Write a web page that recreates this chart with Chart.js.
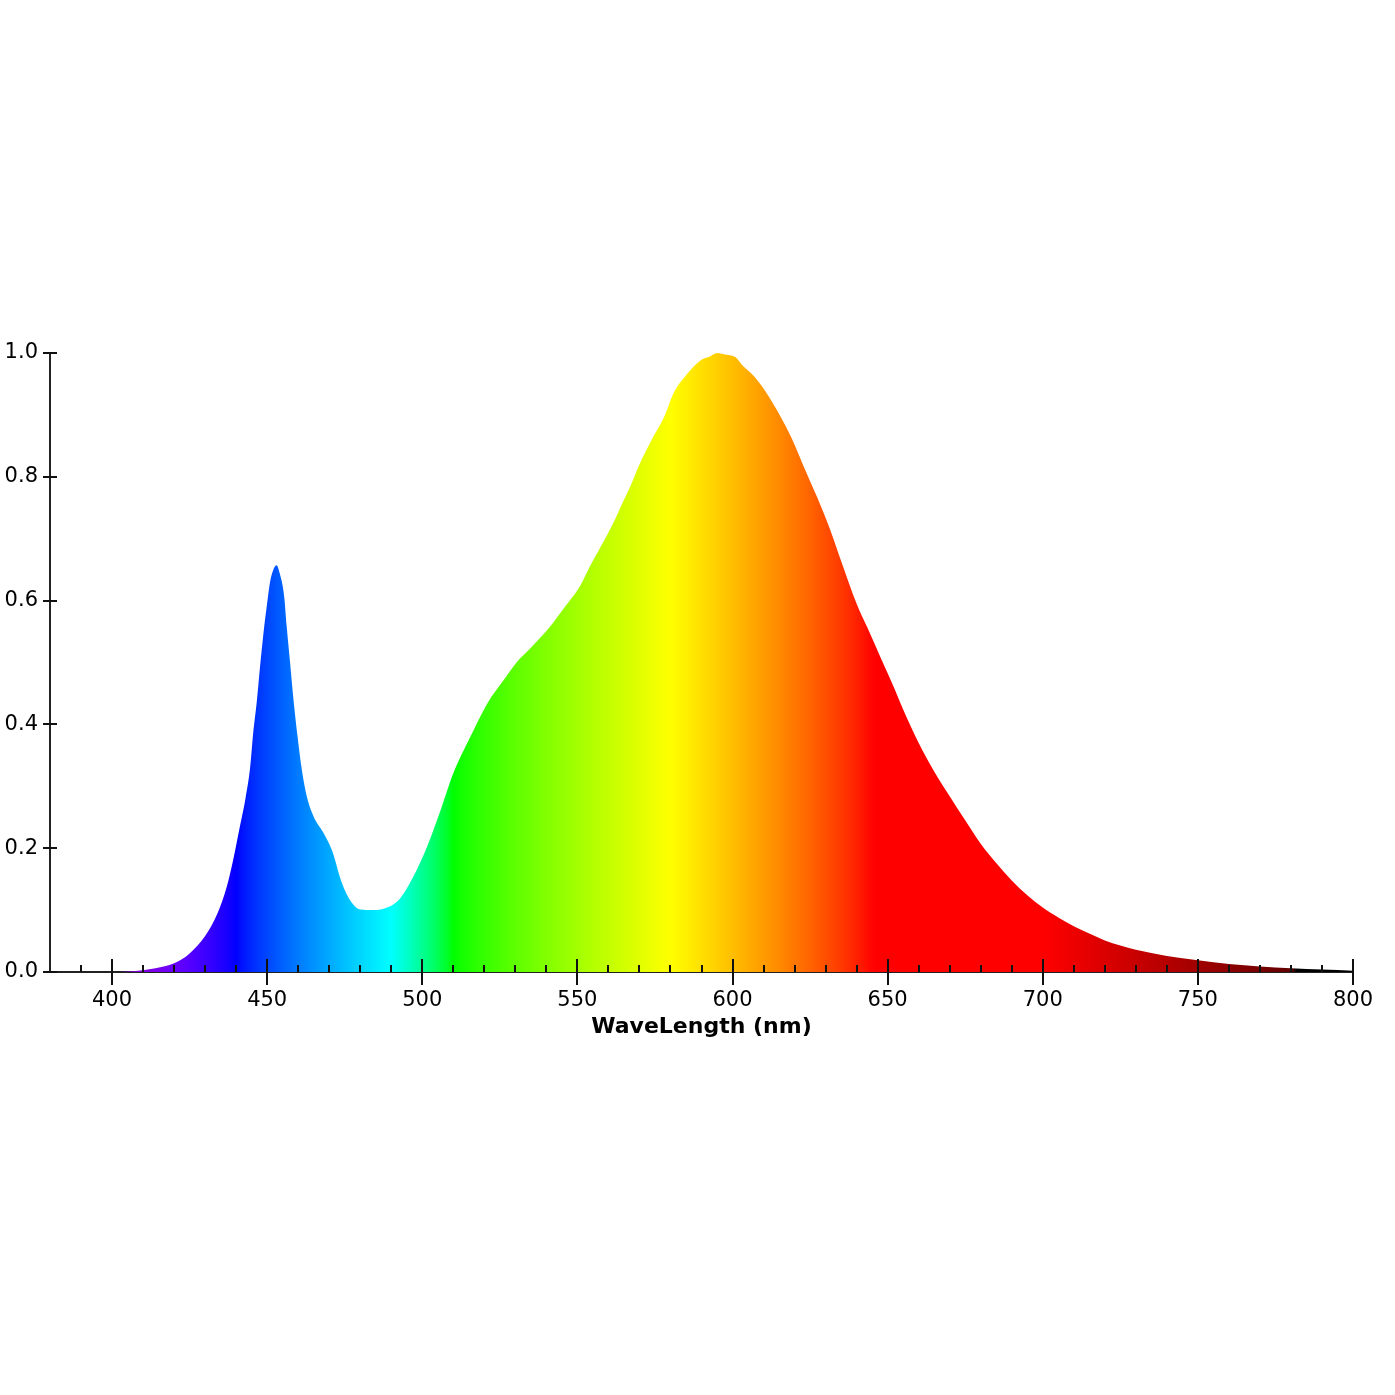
<!DOCTYPE html>
<html>
<head>
<meta charset="utf-8">
<script src="https://cdn.jsdelivr.net/npm/chart.js@4.4.1/dist/chart.umd.min.js"></script>
<style>
  body { margin: 0; background: #fff; }
  #wrap { width: 1395px; height: 1395px; }
</style>
</head>
<body>
<div id="wrap"><canvas id="chart"></canvas></div>
<script>
// spectrum
const wavelengths = [380, 390, 400, 405, 410, 414, 420, 425, 430, 434, 437, 439, 441, 443, 444.5, 445.5,
  446.7, 447.7, 448.8, 450, 451, 452, 453, 454, 455.5, 456.3, 457.4, 458.5, 459.8, 461.2, 462.8, 465,
  468, 471, 474, 477, 480, 484, 490, 493, 497, 501.5, 506, 510, 515.5, 521, 526, 530.5, 535, 541,
  545.5, 551, 554, 557.5, 562, 564, 567, 570, 574.5, 578, 581, 585, 590, 592.5, 595, 598, 601, 603,
  607, 611, 615.5, 619, 623, 627, 631.5, 635, 640, 643.5, 648, 652, 655, 660, 665, 670, 675, 680,
  685, 690, 695, 700, 705, 710, 715, 720, 725, 730, 740, 750, 760, 770, 780, 790, 800];
const intensity = [0, 0, 0, 0.001, 0.003, 0.006, 0.014, 0.03, 0.058, 0.095, 0.138, 0.18, 0.23, 0.28, 0.33, 0.386,
  0.439, 0.493, 0.547, 0.596, 0.632, 0.65, 0.657, 0.645, 0.606, 0.558, 0.499, 0.439, 0.38, 0.326, 0.283, 0.251,
  0.226, 0.195, 0.145, 0.114, 0.101, 0.1, 0.107, 0.12, 0.153, 0.202, 0.263, 0.321, 0.38, 0.434, 0.47, 0.501, 0.524, 0.557,
  0.587, 0.625, 0.655, 0.687, 0.73, 0.752, 0.784, 0.82, 0.865, 0.897, 0.935, 0.964, 0.989, 0.994, 1.0, 0.997, 0.993, 0.981,
  0.962, 0.935, 0.897, 0.863, 0.816, 0.77, 0.714, 0.664, 0.595, 0.556, 0.505, 0.46, 0.424, 0.37, 0.324, 0.284, 0.245, 0.207,
  0.176, 0.148, 0.124, 0.104, 0.088, 0.074, 0.062, 0.051, 0.043, 0.036, 0.026, 0.019, 0.013, 0.009, 0.006, 0.004, 0.002];

const xTicks = [400, 450, 500, 550, 600, 650, 700, 750, 800];
const xMinorTicks = [390, 410, 420, 430, 440, 460, 470, 480, 490, 510, 520, 530, 540, 560, 570, 580, 590,
  610, 620, 630, 640, 660, 670, 680, 690, 710, 720, 730, 740, 760, 770, 780, 790];
const yTicks = [0, 0.2, 0.4, 0.6, 0.8, 1.0];

const points = wavelengths.map((w, i) => ({ x: w, y: intensity[i] }));

// wavelength -> rgb (Bruton)
function specColor(w) {
  let r, g, b;
  if (w < 440) { r = -(w - 440) / 60; g = 0; b = 1; }
  else if (w < 490) { r = 0; g = (w - 440) / 50; b = 1; }
  else if (w < 510) { r = 0; g = 1; b = -(w - 510) / 20; }
  else if (w < 580) { r = (w - 510) / 70; g = 1; b = 0; }
  else if (w < 645) { r = 1; g = -(w - 645) / 65; b = 0; }
  else { r = 1; g = 0; b = 0; }
  let f = 1;
  if (w < 420) f = 0.3 + 0.7 * (w - 380) / 40;
  else if (w > 700) f = 0.3 + 0.7 * (780 - w) / 80;
  if (w > 780) f = 0;
  const c = v => v <= 0 ? 0 : Math.round(255 * Math.pow(v * f, 0.8));
  return 'rgb(' + c(r) + ',' + c(g) + ',' + c(b) + ')';
}

function spectrumFill(context) {
  const chart = context.chart;
  const area = chart.chartArea;
  if (!area) return null;
  const xs = chart.scales.x;
  const x0 = xs.getPixelForValue(380), x1 = xs.getPixelForValue(800);
  const grad = chart.ctx.createLinearGradient(x0, 0, x1, 0);
  for (let w = 380; w <= 800; w += 2) {
    grad.addColorStop((w - 380) / 420, specColor(w));
  }
  return grad;
}

const tickMarks = {
  id: 'tickMarks',
  afterDraw(chart) {
    const ctx = chart.ctx, xs = chart.scales.x, ys = chart.scales.y;
    const y0 = ys.getPixelForValue(0), x0 = xs.getPixelForValue(380);
    ctx.save();
    ctx.strokeStyle = '#111';
    ctx.lineWidth = 2;
    ctx.beginPath();
    xTicks.forEach(v => {
      const p = Math.round(xs.getPixelForValue(v));
      ctx.moveTo(p, y0 - 13); ctx.lineTo(p, y0 + 13);
    });
    xMinorTicks.forEach(v => {
      const p = Math.round(xs.getPixelForValue(v));
      ctx.moveTo(p, y0); ctx.lineTo(p, y0 - 7);
    });
    yTicks.forEach(v => {
      const p = Math.round(ys.getPixelForValue(v));
      ctx.moveTo(x0 - 7, p); ctx.lineTo(x0 + 7, p);
    });
    ctx.stroke();
    ctx.restore();
  }
};

Chart.defaults.font.family = "'DejaVu Sans', Verdana, sans-serif";
Chart.defaults.color = '#000';

new Chart(document.getElementById('chart'), {
  type: 'line',
  data: {
    datasets: [{
      data: points,
      fill: 'origin',
      backgroundColor: spectrumFill,
      borderWidth: 0,
      pointRadius: 0,
      cubicInterpolationMode: 'monotone'
    }]
  },
  options: {
    responsive: true,
    maintainAspectRatio: false,
    animation: false,
    layout: { padding: { top: 353, right: 42, bottom: 0, left: 0 } },
    plugins: { legend: { display: false }, tooltip: { enabled: false } },
    scales: {
      x: {
        type: 'linear',
        min: 380,
        max: 800,
        afterBuildTicks: s => { s.ticks = xTicks.map(v => ({ value: v })); },
        afterFit: s => { s.height = 423; },
        grid: { display: false, drawTicks: false },
        border: { display: true, color: '#222', width: 2 },
        ticks: { font: { size: 21 }, padding: 16, maxRotation: 0, autoSkip: false },
        title: {
          display: true,
          text: 'WaveLength (nm)',
          font: { size: 22, weight: 'bold' },
          padding: { top: 0, bottom: 355 }
        }
      },
      y: {
        min: 0,
        max: 1,
        afterBuildTicks: s => { s.ticks = yTicks.map(v => ({ value: v })); },
        afterFit: s => { s.width = 50; },
        grid: { display: false, drawTicks: false },
        border: { display: true, color: '#222', width: 2 },
        ticks: { font: { size: 21 }, padding: 12, callback: v => v.toFixed(1) }
      }
    }
  },
  plugins: [tickMarks]
});
</script>
</body>
</html>
